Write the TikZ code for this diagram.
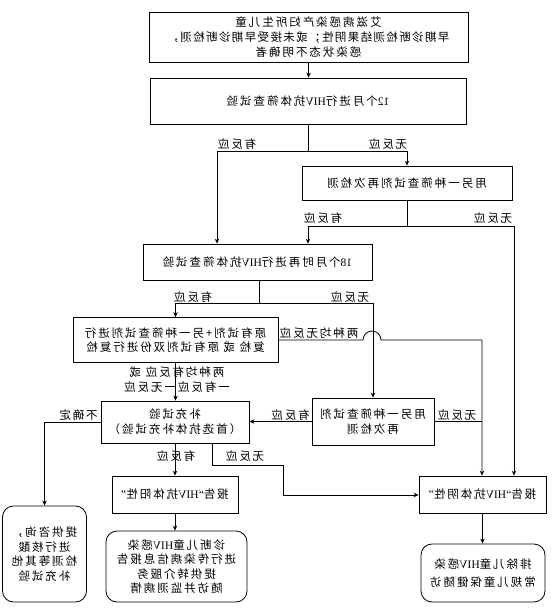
\documentclass[tikz,border=0pt]{standalone}
\usepackage{fontspec}
\setmainfont{Noto Sans CJK SC}
\newfontfamily\cjk[LetterSpace=17]{Noto Sans CJK SC}
\newfontfamily\cjkb[LetterSpace=12]{Noto Sans CJK SC}
\newfontfamily\lat{Liberation Serif}
\usetikzlibrary{arrows.meta}
\tikzset{
  bx/.style={draw, line width=0.8pt, inner sep=0pt, align=center, font=\cjk\fontsize{11.5}{14.5}\selectfont},
  rbx/.style={bx, rounded corners=11pt},
  lab/.style={inner sep=0pt, align=center, font=\cjk\fontsize{11.5}{15}\selectfont},
  ln/.style={line width=0.8pt},
  arr/.style={ln, -{Stealth[length=5pt,width=4.5pt]}},
}
\begin{document}
\begin{tikzpicture}[x=-1pt, y=-1pt, xscale=-1, every node/.append style={transform shape}]
\fill[white] (0,0) rectangle (553,613);
\useasboundingbox (0,0) rectangle (553,613);
% boxes
\node[bx, minimum width=319pt, minimum height=50pt, font=\cjk\fontsize{11.5}{15}\selectfont] (n1) at (308.5,37) {艾滋病感染产妇所生儿童\\{\cjkb 早期诊断检测结果阴性；或未接受早期诊断检测，}\\感染状态不明确者};
\node[bx, minimum width=316pt, minimum height=46pt] (n2) at (308,101) {{\lat 12}个月进行{\lat HIV}抗体筛查试验};
\node[bx, minimum width=210pt, minimum height=34pt] (n3) at (407,183) {用另一种筛查试剂再次检测};
\node[bx, minimum width=229pt, minimum height=36pt] (n4) at (257.5,262) {{\lat 18}个月时再进行{\lat HIV}抗体筛查试验};
\node[bx, minimum width=205pt, minimum height=45pt] (n5) at (175.5,340) {原有试剂+另一种筛查试剂进行\\复检\ 或\ 原有试剂双份进行复检};
\node[bx, minimum width=148pt, minimum height=42pt, font=\cjk\fontsize{11.5}{15}\selectfont] (n6) at (175,422) {补充试验\\（首选抗体补充试验）};
\node[bx, minimum width=122pt, minimum height=47pt, font=\cjk\fontsize{11.5}{15}\selectfont] (n7) at (373,421.5) {用另一种筛查试剂\\再次检测};
\node[bx, minimum width=126pt, minimum height=37pt] (n9) at (175,494.5) {报告{\lat “HIV}抗体阳性{\lat ”}};
\node[bx, minimum width=127pt, minimum height=37pt] (n10) at (482.5,494.5) {报告{\lat “HIV}抗体阴性{\lat ”}};
\node[rbx, minimum width=84pt, minimum height=96pt, font=\cjk\fontsize{11.5}{14.7}\selectfont] (n8) at (44.5,554) {提供咨询，\\进行核酸\\检测等其他\\补充试验};
\node[rbx, minimum width=141pt, minimum height=71pt] (n11) at (176.5,566.5) {诊断儿童{\lat HIV}感染\\进行传染病信息报告\\提供转介服务\\随访并监测病情};
\node[rbx, minimum width=124pt, minimum height=58pt, font=\cjk\fontsize{11.5}{18}\selectfont] (n12) at (483,573) {排除儿童{\lat HIV}感染\\常规儿童保健随访};
% junctions
\coordinate (j1) at (308,151);
\coordinate (c217) at (217,151);
\coordinate (j2) at (407,226);
\coordinate (c308) at (308,226);
\coordinate (c514) at (514,226);
\coordinate (j3) at (259,303);
\coordinate (c482) at (482,340);
\coordinate (k1) at (212,465);
\coordinate (k2) at (283,465);
\coordinate (k3) at (283,495);
% connectors
\draw[arr] (n1.south) -- (n1.south |- n2.north);
\draw[ln] (n2.south) -- (j1);
\draw[arr] (j1) -| (n3.north);
\draw[arr] (j1) -| (c217 |- n4.north);
\draw[ln] (n3.south) -- (j2);
\draw[arr] (j2) -| (c308 |- n4.north);
\draw[arr] (j2) -| (c514 |- n10.north);
\draw[ln] (j3 |- n4.south) -- (j3);
\draw[arr] (j3) -| (n5.north);
\draw[arr] (j3) -| (n7.north);
\draw[arr] (n5.west) -- (363,340) arc[start angle=0, end angle=180, radius=9pt] -- (c482) -- (c482 |- n10.north);
\draw[ln] (n7.west) -- (n7.west -| c482);
\draw[arr] (n7.east) -- (n7.east -| n6.west);
\draw[arr] (n5.south) -- (n5.south |- n6.north);
\draw[arr] (n6.east) -| (n8.north);
\draw[arr] (n6.south) -- (n9.north);
\draw[arr] (k1 |- n6.south) -- (k1) -- (k2) -- (k3) -- (k3 -| n10.east);
\draw[arr] (n9.south) -- (n9.south |- n11.north);
\draw[arr] (n10.south) -- (n10.south |- n12.north);
% labels
\node[lab] (l1) at (237,144) {有反应};
\node[lab] (l2) at (388,144) {无反应};
\node[lab] (l3) at (323,218) {有反应};
\node[lab] (l4) at (493,218) {无反应};
\node[lab] (l5) at (193,297) {有反应};
\node[lab] (l6) at (350,297) {无反应};
\node[lab] (l7) at (319,333) {两种均无反应};
\node[lab] (l8) at (177,379.5) {两种均有反应\ 或\\一有反应一无反应};
\node[lab] (l9) at (78.5,415) {不确定};
\node[lab] (l10) at (290.5,415) {有反应};
\node[lab] (l11) at (457,415) {无反应};
\node[lab] (l12) at (176,456) {有反应};
\node[lab] (l13) at (245,456) {无反应};
\end{tikzpicture}
\end{document}
